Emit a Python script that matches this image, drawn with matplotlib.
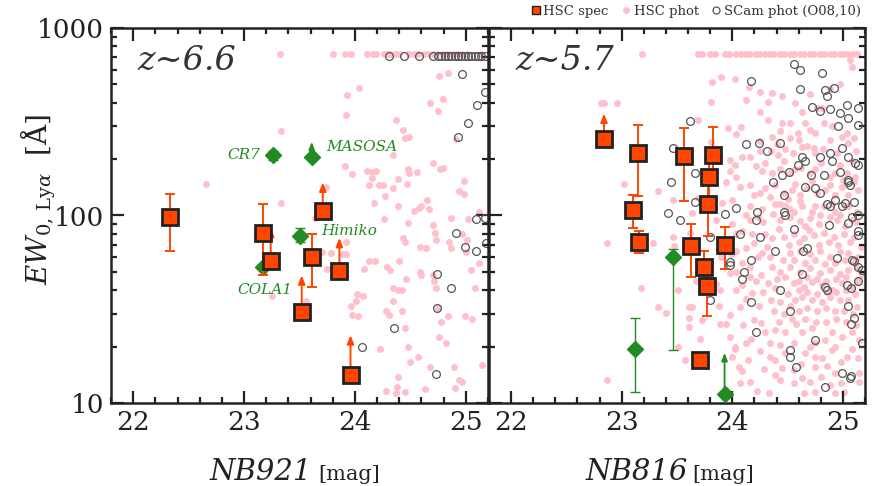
import numpy as np
import matplotlib.pyplot as plt
from matplotlib.lines import Line2D
from matplotlib.ticker import MultipleLocator, LogLocator, FuncFormatter, NullFormatter

plt.rcParams['font.family'] = 'DejaVu Serif'
plt.rcParams['mathtext.fontset'] = 'dejavuserif'

ORANGE = '#FF4500'
GREEN = '#228B22'
PINK = '#FFC0CB'
GRAY = '#555555'
NAN = np.nan

# ---------------- z~6.6 (NB921) ----------------
# HSC spec: mag, EW, error-bar ends (lo, hi), lower-limit arrow tip
spec66_mag = [22.33, 23.17, 23.24, 23.52, 23.61, 23.71, 23.86, 23.96]
spec66_ew = [98, 81, 57, 30.6, 60, 106, 50.6, 14.1]
spec66_lo = [65, 48, NAN, NAN, 41.6, NAN, NAN, NAN]
spec66_hi = [131, 115, NAN, NAN, 80, NAN, NAN, NAN]
spec66_arrow = [NAN, NAN, 86, 48, NAN, 150, 76, 23]

# known objects (green diamonds)
obj66_name = ['CR7', 'MASOSA', 'Himiko', 'COLA1']
obj66_mag = [23.26, 23.61, 23.50, 23.17]
obj66_ew = [210, 205, 78, 53]
obj66_lo = [198, NAN, 72, NAN]
obj66_hi = [222, NAN, 86, NAN]
obj66_arrow = [NAN, 247, NAN, NAN]

# HSC photometric sample (mag, EW)
phot66 = [
    (23.32, 730), (23.80, 730), (23.91, 730), (23.96, 730), (24.11, 730), (24.16, 730),
    (24.19, 730), (24.26, 730), (24.29, 730), (24.32, 730), (24.36, 730), (24.40, 730),
    (24.49, 730), (24.53, 730), (24.57, 730), (24.62, 730), (24.66, 730), (24.70, 730),
    (24.74, 730), (24.79, 730), (24.83, 730), (24.88, 730), (24.92, 730), (24.97, 730),
    (25.01, 730), (25.14, 730),
    (24.76, 555), (24.84, 575), (24.04, 480), (23.93, 440), (24.68, 400), (24.79, 420),
    (24.75, 360), (23.92, 345), (24.37, 323), (24.43, 285), (24.49, 262), (24.45, 258),
    (24.91, 255), (23.33, 283), (24.34, 210), (24.70, 190), (24.79, 180), (24.77, 178),
    (23.91, 183), (23.97, 166), (24.11, 172), (24.15, 171), (24.19, 172), (24.48, 178),
    (24.56, 170), (24.49, 168), (24.15, 158), (24.39, 156), (22.66, 147), (24.98, 152),
    (24.13, 145), (24.22, 145), (24.25, 146), (24.34, 140), (24.47, 147), (24.94, 135),
    (24.98, 130), (23.33, 117), (23.74, 142), (24.17, 116), (24.27, 127), (24.39, 113),
    (24.53, 106), (24.58, 110), (24.60, 113), (24.65, 121), (24.67, 108), (24.87, 97),
    (25.12, 104), (25.02, 96),
    (24.26, 96), (24.48, 91), (24.70, 89), (24.72, 81), (24.73, 74), (24.85, 72),
    (24.97, 80), (25.01, 74), (24.43, 76), (24.45, 72), (24.59, 68), (24.64, 67),
    (24.87, 67), (25.00, 64), (23.92, 72), (23.92, 62), (23.89, 62), (23.78, 63),
    (23.70, 64), (23.64, 97), (24.13, 57), (24.18, 57), (24.40, 57), (24.29, 53),
    (24.32, 51), (24.08, 52), (23.75, 52), (24.46, 46), (24.59, 50), (24.60, 48),
    (24.70, 48), (24.71, 45), (24.73, 41), (25.05, 51), (25.08, 41), (25.12, 56),
    (24.34, 41), (24.39, 40), (24.42, 40), (24.02, 38), (24.07, 37), (24.01, 35),
    (24.34, 35), (24.42, 31), (24.28, 31), (24.31, 29.5), (23.96, 33), (23.97, 29.5),
    (24.03, 29), (24.75, 32), (24.84, 29), (24.78, 27), (24.99, 29), (25.06, 28),
    (23.56, 35), (23.25, 37), (24.45, 25), (24.76, 22.5), (24.82, 21), (24.48, 20),
    (24.23, 19.5), (24.57, 17.5), (24.50, 16.5), (24.68, 15.5), (24.89, 15.5), (25.15, 16),
    (24.39, 13.8), (24.38, 12.2), (24.37, 11.3), (24.45, 11.5), (24.28, 11.6), (24.63, 11.9),
    (24.90, 12), (24.94, 13.2), (24.97, 12.9),
]

# Suprime-Cam photometric sample (O08,10)
scam66 = [
    (24.31, 710), (24.44, 710), (24.58, 710), (24.70, 710), (24.75, 705), (24.78, 705),
    (24.81, 705), (24.84, 705), (24.87, 705), (24.90, 705), (24.93, 705), (24.96, 705),
    (24.99, 705), (25.02, 705), (25.05, 705), (25.08, 705), (25.11, 705), (25.14, 705),
    (25.17, 705),
    (24.97, 570), (25.17, 455), (25.10, 390), (25.02, 310), (24.93, 262), (25.17, 97),
    (25.09, 96), (24.91, 81), (24.99, 68), (25.09, 65), (25.18, 71), (24.74, 49),
    (24.87, 41), (24.74, 32), (24.35, 25), (24.06, 20), (24.73, 14.3),
]

# ---------------- z~5.7 (NB816) ----------------
spec57_mag = [22.84, 23.15, 23.10, 23.56, 23.83, 23.79, 23.78, 23.16, 23.63, 23.74, 23.77, 23.93, 23.71]
spec57_ew = [256, 216, 107, 208, 210, 160, 115, 72, 69, 53, 42, 70, 17]
spec57_lo = [NAN, 127, 86, 119, 150, 120, 78, 63, 47, 42, 29, 52, 16]
spec57_hi = [NAN, 303, 128, 292, 297, 200, 150, 83, 90, 65, 50, 87, 18]
spec57_arrow = [350, NAN, NAN, NAN, NAN, NAN, NAN, NAN, NAN, NAN, NAN, NAN, NAN]

obj57_mag = [23.12, 23.46, 23.93]
obj57_ew = [19.4, 60, 11.2]
obj57_lo = [11.4, 19.2, NAN]
obj57_hi = [28.4, 66.5, NAN]
obj57_arrow = [NAN, NAN, 18.5]

phot57 = [
    (23.18, 730), (23.69, 730), (23.73, 730), (23.80, 730), (23.84, 730), (23.93, 730),
    (23.97, 730), (24.03, 730), (24.08, 730), (24.12, 730), (24.16, 730), (24.21, 730),
    (24.25, 730), (24.30, 730), (24.34, 730), (24.38, 730), (24.43, 730), (24.47, 730),
    (24.52, 730), (24.56, 730), (24.61, 730), (24.65, 730), (24.70, 730), (24.74, 730),
    (24.79, 730), (24.83, 730), (24.88, 730), (24.92, 730), (24.97, 730), (25.01, 730),
    (25.05, 730), (25.09, 730), (25.13, 730), (25.06, 675), (25.08, 620),
    (22.81, 400), (22.84, 400), (22.96, 400),
    (23.82, 515), (23.90, 550), (24.02, 535), (24.15, 485), (24.25, 455), (24.32, 405),
    (24.12, 415), (23.81, 405), (24.36, 450), (24.45, 435), (24.57, 400), (24.63, 355),
    (24.70, 445), (24.77, 375), (24.81, 375), (24.97, 500), (24.88, 470),
    (23.69, 323), (23.96, 293), (24.08, 295), (24.03, 272), (24.25, 355), (24.32, 323),
    (24.45, 310), (24.52, 310), (24.43, 282), (24.36, 262), (24.52, 258), (24.59, 275),
    (24.66, 310), (24.70, 285), (24.75, 275), (24.83, 310), (24.90, 300), (24.99, 262),
    (25.04, 275), (25.10, 258), (24.60, 252), (24.63, 232), (24.74, 230), (24.75, 215),
    (24.88, 252), (25.05, 245), (24.35, 220), (24.41, 210), (24.16, 205), (24.09, 205),
    (24.25, 222), (24.02, 185), (23.98, 198), (23.98, 172), (24.21, 183), (24.27, 172),
    (24.36, 168), (24.43, 178), (24.52, 168), (24.57, 178), (24.70, 168), (24.75, 178),
    (24.88, 160), (24.93, 168), (25.04, 168), (25.11, 160), (23.02, 148), (23.33, 135),
    (23.46, 121), (23.94, 150), (24.03, 160), (24.07, 142), (24.16, 145), (24.25, 132),
    (24.30, 140), (24.39, 145), (24.47, 132), (24.54, 137), (24.61, 128), (24.68, 140),
    (24.77, 132), (24.84, 137), (24.93, 128), (24.99, 142), (25.05, 128), (25.14, 137),
    (23.91, 117), (24.00, 121), (24.16, 112), (24.27, 108), (24.43, 115), (24.52, 108),
    (24.63, 112), (24.72, 105), (24.83, 112), (24.93, 105), (25.02, 112), (25.13, 105),
    (23.64, 103), (23.69, 124), (23.81, 247),
    (22.87, 71), (22.87, 13.3), (23.17, 41), (23.28, 71), (23.33, 32.5), (23.40, 30.2),
    (23.47, 69), (23.51, 40), (23.51, 20), (23.46, 77), (23.61, 32.5), (23.64, 32.5),
    (23.61, 28.4), (23.61, 25.5), (23.57, 17), (23.71, 22), (23.73, 27.7), (23.67, 45),
    (23.78, 45), (23.85, 43), (23.89, 40), (23.89, 26.5), (23.94, 26.5), (23.98, 22.5),
    (24.02, 20), (24.02, 19.4), (24.06, 15.5), (24.09, 14.8), (24.07, 12.8), (24.16, 12.9),
    (24.22, 11.6), (24.33, 11.3), (24.39, 14.1), (24.43, 13.3), (24.25, 19), (24.34, 21),
    (24.12, 21), (24.17, 22), (24.20, 27.7), (24.26, 26.7), (23.98, 29.5), (24.07, 32.5),
    (24.12, 36), (24.18, 38.6), (24.03, 40), (24.09, 42.5), (23.98, 49.5), (24.03, 50),
    (24.16, 47), (24.21, 45), (24.09, 56), (24.16, 53), (23.99, 62), (24.03, 65),
    (24.12, 67), (24.20, 71), (24.03, 80), (24.09, 83), (24.16, 95), (24.23, 98),
    (24.30, 80), (24.36, 76), (24.27, 63), (24.34, 60), (24.36, 53), (24.43, 50),
    (24.32, 43.5), (24.39, 41), (24.35, 35.4), (24.43, 34.5), (24.47, 30), (24.54, 28),
    (24.39, 24.5), (24.48, 24), (24.34, 17.6), (24.39, 17), (24.45, 15.4), (24.56, 15),
    (24.56, 12.8), (24.63, 13.6), (24.70, 12.9), (24.75, 11.5), (24.88, 12.5), (24.93, 11.3),
    (25.01, 11.5), (25.15, 12.9), (25.15, 14.4), (24.66, 18.5), (24.75, 17.6), (24.81, 17.4),
    (24.90, 19.2), (25.04, 17.6), (25.14, 17.4), (24.75, 21), (24.84, 21.7), (24.93, 20),
    (24.63, 24), (24.72, 25), (24.90, 24), (24.99, 22.5), (25.08, 24), (25.15, 21.7),
    (24.57, 35.4), (24.63, 36.7), (24.72, 35.4), (24.81, 34.5), (24.88, 36.7), (24.97, 35.4),
    (25.05, 35.4), (25.13, 32.5), (24.56, 43.5), (24.65, 41.5), (24.72, 44), (24.81, 42.5),
    (24.90, 40), (24.99, 43.5), (25.08, 41.5), (25.14, 45), (24.52, 53), (24.61, 50),
    (24.70, 52.5), (24.79, 49.5), (24.88, 51), (24.97, 48.5), (25.05, 51), (25.13, 53),
    (24.52, 63), (24.61, 65), (24.70, 62), (24.79, 65), (24.88, 60), (24.97, 64),
    (25.05, 63), (25.14, 60), (24.47, 77), (24.56, 80), (24.65, 76), (24.74, 78.5),
    (24.83, 81), (24.92, 77), (25.01, 80), (25.10, 77), (24.43, 95), (24.52, 98),
    (24.61, 93), (24.70, 97), (24.79, 100), (24.95, 95), (24.97, 100), (25.08, 95),
    (24.39, 115), (24.48, 112), (24.61, 119), (24.75, 112), (24.90, 115), (25.05, 112),
    (23.62, 81), (24.43, 20.4), (24.56, 21), (24.93, 14.4), (24.75, 15.5),
    (24.25, 250), (24.40, 240), (24.48, 225), (24.55, 215), (24.68, 235), (24.82, 225),
    (24.95, 215), (25.12, 222), (24.30, 190), (24.47, 195), (24.62, 180), (24.80, 190),
    (24.97, 185), (25.08, 195), (24.20, 128), (24.34, 125), (24.50, 122), (24.57, 148),
    (24.72, 152), (24.88, 145), (25.00, 155), (25.10, 150), (24.12, 100), (24.28, 92),
    (24.37, 102), (24.56, 105), (24.66, 88), (24.78, 90), (24.88, 98), (25.02, 88),
    (25.12, 92), (24.18, 80), (24.42, 85), (24.51, 70), (24.60, 72), (24.69, 84),
    (24.78, 70), (24.87, 72), (24.96, 70), (25.06, 72), (25.16, 68), (24.23, 60),
    (24.31, 68), (24.46, 58), (24.56, 58), (24.66, 56), (24.75, 58), (24.84, 55),
    (24.93, 56), (25.02, 58), (25.11, 57), (24.26, 48), (24.40, 46), (24.48, 47),
    (24.60, 45), (24.68, 47), (24.77, 46), (24.85, 45), (24.94, 46), (25.03, 47),
    (25.17, 49), (24.28, 39), (24.50, 38), (24.60, 40), (24.68, 39), (24.77, 38),
    (24.86, 39), (24.94, 39), (25.03, 40), (25.11, 38), (24.24, 33), (24.38, 31),
    (24.52, 33), (24.60, 31), (24.68, 32), (24.77, 31), (24.85, 32), (24.93, 31),
    (25.01, 31), (25.09, 30), (24.30, 24), (24.42, 27), (24.58, 26.5), (24.66, 28),
    (24.76, 27), (24.85, 27), (24.94, 28), (25.03, 27), (25.12, 26), (24.29, 15.2),
    (24.48, 18.5), (24.62, 16.2), (24.70, 20), (24.86, 15.8), (24.98, 16.5), (25.08, 19.5),
    (24.80, 13.8), (24.65, 11.3), (24.98, 12.8), (23.85, 95), (23.90, 60), (24.00, 90),
    (23.88, 33), (24.10, 26), (24.14, 17), (24.00, 17.5),
]

scam57 = [
    (24.56, 640), (24.61, 600), (24.81, 575), (24.61, 470), (24.84, 465), (24.86, 435),
    (24.92, 480), (24.17, 520), (23.62, 318), (24.72, 380), (24.79, 360), (24.88, 370),
    (24.97, 350), (25.04, 390), (25.05, 330), (25.14, 375), (25.14, 305), (24.96, 300),
    (24.12, 240), (24.24, 245), (24.31, 220), (24.43, 245), (24.63, 205), (24.66, 195),
    (24.79, 205), (24.88, 215), (24.90, 195), (24.99, 230), (25.05, 205), (25.11, 190),
    (25.14, 185), (24.59, 185), (24.45, 165), (24.51, 170), (24.71, 165), (24.83, 165),
    (25.05, 150), (25.05, 155), (25.06, 146), (24.97, 170), (24.66, 142), (24.75, 140),
    (24.79, 132), (24.93, 121), (25.02, 117), (25.10, 118), (24.37, 150), (24.47, 128),
    (23.66, 168), (23.46, 230), (23.45, 150), (23.42, 103), (23.66, 118), (23.93, 102),
    (24.03, 110), (24.22, 104), (24.47, 104), (24.86, 115), (25.14, 100),
    (23.53, 95), (23.80, 77), (23.80, 35.4), (23.98, 56.5), (23.98, 54.5), (24.07, 80),
    (24.11, 50), (24.09, 46), (24.17, 34.5), (24.21, 95), (24.25, 77), (24.17, 58),
    (24.21, 24), (24.39, 65), (24.43, 40), (24.48, 100), (24.56, 85), (24.52, 31),
    (24.52, 19.2), (24.52, 17.6), (24.58, 15.5), (24.64, 65), (24.68, 67), (24.63, 48.5),
    (24.75, 21.7), (24.84, 41.5), (24.88, 112), (24.87, 89), (24.95, 59), (24.86, 40),
    (24.99, 112), (25.05, 91), (25.08, 98), (25.04, 42.5), (25.07, 41), (25.05, 33),
    (25.10, 28.4), (25.07, 26.5), (25.08, 58), (25.10, 57), (25.17, 21), (24.84, 12.2),
    (24.99, 14.4), (25.06, 13.6), (25.07, 14), (25.14, 53), (25.17, 51), (25.14, 83),
    (25.14, 79), (25.14, 45),
]

x_ticks = [22, 23, 24, 25]
y_ticks = [10, 100, 1000]


def style_axes(ax):
    ax.set_yscale('log')
    ax.set_xlim(21.8, 25.2)
    ax.set_ylim(10, 1000)
    ax.set_xticks(x_ticks)
    ax.xaxis.set_minor_locator(MultipleLocator(0.2))
    ax.set_yticks(y_ticks)
    ax.yaxis.set_minor_locator(LogLocator(base=10, subs=np.arange(2, 10)))
    ax.yaxis.set_minor_formatter(NullFormatter())
    ax.yaxis.set_major_formatter(FuncFormatter(lambda v, p: '%d' % v))
    ax.tick_params(which='both', direction='in', top=True, right=True,
                   width=1.6, color='#222222', labelsize=19, labelcolor='#222222')
    ax.tick_params(which='major', length=9, pad=5)
    ax.tick_params(which='minor', length=4.5)
    for s in ax.spines.values():
        s.set_linewidth(1.8)
        s.set_color('#222222')


def draw_panel(ax, phot, scam, sp, obj):
    p = np.array(phot)
    ax.plot(p[:, 0], p[:, 1], 'o', ms=5, mfc=PINK, mec='none', zorder=1)
    s = np.array(scam)
    ax.plot(s[:, 0], s[:, 1], 'o', ms=5.6, mfc='none', mec=GRAY, mew=0.9, zorder=2)

    # green objects
    for m, e, lo, hi, top in zip(*obj):
        if np.isfinite(lo):
            ax.errorbar(m, e, yerr=[[e - lo], [hi - e]], fmt='none', ecolor=GREEN,
                        elinewidth=1.0, capsize=3.5, capthick=1.0, zorder=3)
        if np.isfinite(top):
            ax.annotate('', xy=(m, top), xytext=(m, e),
                        arrowprops=dict(arrowstyle='-|>,head_length=0.45,head_width=0.18',
                                        color=GREEN, lw=1.3, shrinkA=0, shrinkB=0), zorder=3)
    ax.plot(obj[0], obj[1], 'D', ms=8, mfc=GREEN, mec=GREEN, zorder=3.5)

    # spectroscopic sample
    for m, e, lo, hi, top in zip(*sp):
        if np.isfinite(lo):
            ax.errorbar(m, e, yerr=[[e - lo], [hi - e]], fmt='none', ecolor=ORANGE,
                        elinewidth=1.4, capsize=3.5, capthick=1.4, zorder=4)
        if np.isfinite(top):
            ax.annotate('', xy=(m, top), xytext=(m, e),
                        arrowprops=dict(arrowstyle='-|>,head_length=0.5,head_width=0.2',
                                        color=ORANGE, lw=1.4, shrinkA=0, shrinkB=0), zorder=4)
    ax.plot(sp[0], sp[1], 's', ms=11, mfc=ORANGE, mec='#222222', mew=2, zorder=5)


fig = plt.figure(figsize=(8.73, 4.86), dpi=100)
ax1 = fig.add_axes([111 / 873, 83 / 486, 377 / 873, 375 / 486])
ax2 = fig.add_axes([489 / 873, 83 / 486, 376 / 873, 375 / 486])

draw_panel(ax1, phot66, scam66,
           (spec66_mag, spec66_ew, spec66_lo, spec66_hi, spec66_arrow),
           (obj66_mag, obj66_ew, obj66_lo, obj66_hi, obj66_arrow))
draw_panel(ax2, phot57, scam57,
           (spec57_mag, spec57_ew, spec57_lo, spec57_hi, spec57_arrow),
           (obj57_mag, obj57_ew, obj57_lo, obj57_hi, obj57_arrow))

for ax in (ax1, ax2):
    style_axes(ax)
ax2.tick_params(labelleft=False)

# object names
ax1.text(23.15, 210, 'CR7', color=GREEN, style='italic', fontsize=11, ha='right', va='center')
ax1.text(23.74, 232, 'MASOSA', color=GREEN, style='italic', fontsize=11, ha='left', va='center')
ax1.text(23.70, 83, 'Himiko', color=GREEN, style='italic', fontsize=11, ha='left', va='center')
ax1.text(23.19, 40, 'COLA1', color=GREEN, style='italic', fontsize=11, ha='center', va='center')

# panel labels
ax1.text(0.07, 0.955, 'z~6.6', transform=ax1.transAxes, style='italic', fontsize=24,
         color='#333333', ha='left', va='top')
ax2.text(0.07, 0.955, 'z~5.7', transform=ax2.transAxes, style='italic', fontsize=24,
         color='#333333', ha='left', va='top')

# axis labels
ax1.text(0.533, -0.205, 'NB921', transform=ax1.transAxes, style='italic', fontsize=21,
         color='#222222', ha='right', va='baseline')
ax1.text(0.549, -0.205, '[mag]', transform=ax1.transAxes, fontsize=15,
         color='#222222', ha='left', va='baseline')
ax2.text(0.528, -0.205, 'NB816', transform=ax2.transAxes, style='italic', fontsize=21,
         color='#222222', ha='right', va='baseline')
ax2.text(0.541, -0.205, '[mag]', transform=ax2.transAxes, fontsize=15,
         color='#222222', ha='left', va='baseline')
ax1.set_ylabel(r'$EW_{0,\,\mathrm{Ly}\alpha}$  [Å]', fontsize=20, color='#222222')
ax1.yaxis.set_label_coords(-0.14, 0.544)

# legend
handles = [
    Line2D([], [], ls='none', marker='s', ms=6, mfc=ORANGE, mec='#222222', mew=1),
    Line2D([], [], ls='none', marker='o', ms=5, mfc=PINK, mec='none'),
    Line2D([], [], ls='none', marker='o', ms=5, mfc='none', mec=GRAY, mew=0.9),
]
fig.legend(handles, ['HSC spec', 'HSC phot', 'SCam phot (O08,10)'], ncol=3,
           loc='upper right', bbox_to_anchor=(1.0, 1.015), frameon=False, fontsize=9.5,
           handletextpad=0.1, columnspacing=0.8, handlelength=1.0, labelcolor='#333333')

fig.savefig('out.png', dpi=100)
